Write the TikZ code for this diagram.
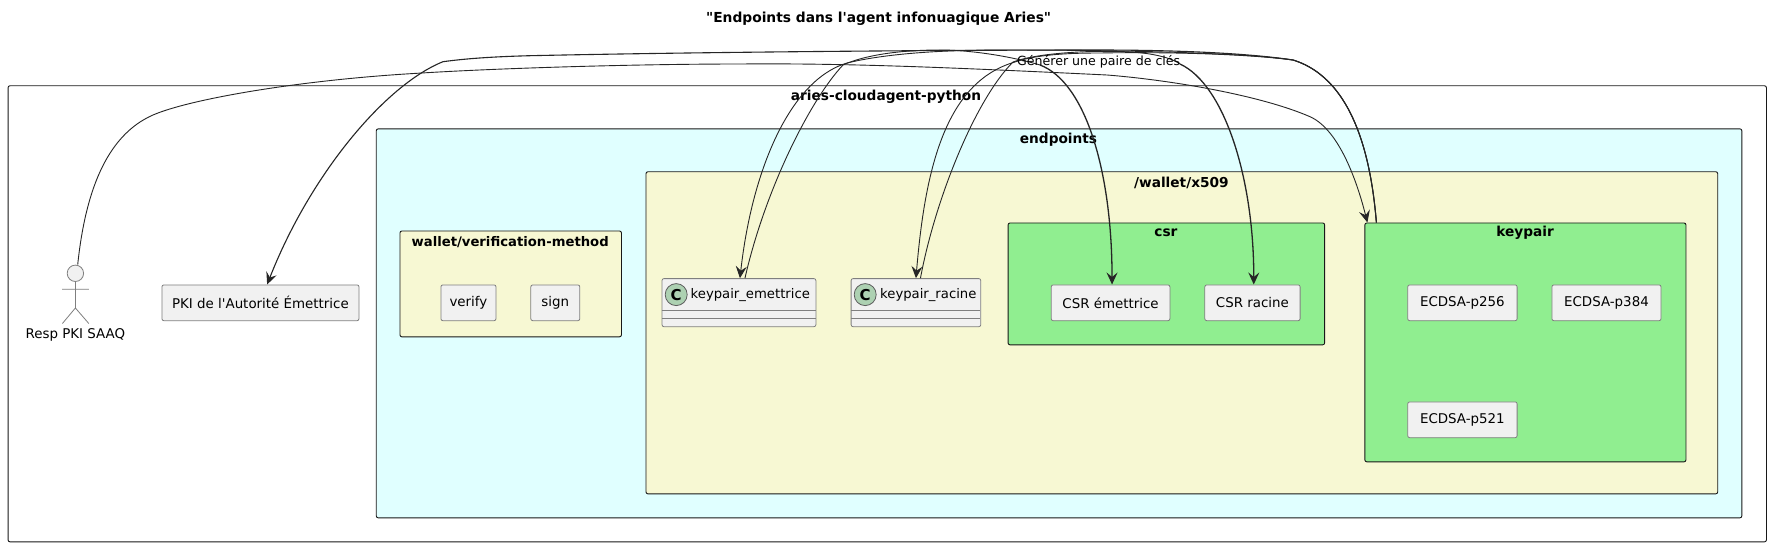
\documentclass[tikz,border=0pt]{standalone}
\usepackage{fontspec}
\setmainfont{DejaVu Sans}[Ligatures=TeXOff]
\usetikzlibrary{arrows.meta}
\definecolor{boxfill}{HTML}{F1F1F1}
\definecolor{boxline}{HTML}{7F7F7F}
\definecolor{grpline}{HTML}{181818}
\definecolor{cyanfill}{HTML}{E0FFFF}
\definecolor{yellowfill}{HTML}{F7F8D3}
\definecolor{greenfill}{HTML}{90EE90}
\definecolor{circfill}{HTML}{ADD1B2}
\tikzset{
  grp/.style={draw=grpline,line width=.9pt,rounded corners=2pt,anchor=north west,inner sep=0pt},
  grplabel/.style={font=\bfseries\fontsize{13.7}{17}\selectfont,text=black,inner sep=0pt},
  item/.style={draw=boxline,fill=boxfill,line width=.8pt,rounded corners=2pt,anchor=north west,inner sep=0pt,minimum height=35.8pt,font=\fontsize{13.4}{16}\selectfont,text=black},
  edge/.style={draw=black!85,line width=.9pt,-{Stealth[length=12pt,width=11pt,inset=4.5pt]}},
  edgeb/.style={edge,line width=1.3pt},
  plainedge/.style={draw=black!85,line width=.9pt},
  stick/.style={draw=boxline,line width=.8pt}
}
\begin{document}
\begin{tikzpicture}[x=1pt,y=-1pt]
\useasboundingbox[fill=white] (0,0) rectangle (1770,546);
\node[font=\bfseries\fontsize{13.8}{17}\selectfont] (title) at (878.6,19) {"Endpoints dans l'agent infonuagique Aries"};
% groups
\node[grp,fill=white,minimum width=1758.4pt,minimum height=456.1pt] (aries) at (7.6,85.3) {};
\node[grp,fill=cyanfill,minimum width=1365.6pt,minimum height=389pt] (endpoints) at (375.8,128.4) {};
\node[grp,fill=yellowfill,minimum width=1071.8pt,minimum height=322.1pt] (x509) at (645.5,171.3) {};
\node[grp,fill=yellowfill,minimum width=221.5pt,minimum height=105.9pt] (wvm) at (399.5,230.5) {};
\node[grp,fill=greenfill,minimum width=316.6pt,minimum height=121.9pt] (csr) at (1007.6,222.5) {};
\node[grp,fill=greenfill,minimum width=321.1pt,minimum height=238.9pt] (kp) at (1364.4,222.5) {};
\node[grplabel] (lariesc) at (886,97) {aries-cloudagent-python};
\node[grplabel] (lendpoints) at (1058.5,139.5) {endpoints};
\node[grplabel] (lx509) at (1181.4,182.5) {/wallet/x509};
\node[grplabel,font=\bfseries\fontsize{13.2}{17}\selectfont] (lwvm) at (510.2,242) {wallet/verification-method};
\node[grplabel] (lcsr) at (1165.9,233) {csr};
\node[grplabel] (lkp) at (1525,233) {keypair};
% actor
\node[circle,draw=boxline,fill=boxfill,line width=.8pt,minimum size=16.4pt,inner sep=0pt] (actor) at (75.4,273.3) {};
\coordinate (hip) at (75.4,308);
\coordinate (armL) at (62,289.3);
\coordinate (armR) at (88.8,289.3);
\coordinate (legL) at (62.4,323.5);
\coordinate (legR) at (88.8,323.5);
\draw[stick] (actor.south) -- (hip) (armL) -- (armR) (legL) -- (hip) -- (legR);
\node[font=\fontsize{13.4}{16}\selectfont,inner sep=0pt] (actorlabel) at (75.4,334.5) {Resp PKI SAAQ};
% items
\node[item,minimum width=197.1pt] (pki) at (161.5,284.5) {PKI de l'Autorité Émettrice};
\node[item,minimum width=55.1pt] (verify) at (440.5,284.5) {verify};
\node[item,minimum width=49pt] (sign) at (530.4,284.5) {sign};
\node[item,minimum width=118.7pt] (csre) at (1050.8,284.5) {CSR émettrice};
\node[item,minimum width=95.3pt] (csrr) at (1204.4,284.5) {CSR racine};
\node[item,minimum width=109.4pt] (p256) at (1407.3,284.5) {ECDSA-p256};
\node[item,minimum width=109.1pt] (p384) at (1551.5,284.5) {ECDSA-p384};
\node[item,minimum width=109.4pt] (p521) at (1407.3,401.5) {ECDSA-p521};
% classes
\node[item,minimum width=153.9pt,minimum height=48.1pt] (ke) at (661.6,278.2) {};
\node[item,minimum width=129.7pt,minimum height=48.1pt] (kr) at (850.7,278.2) {};
\draw[stick] (661.6,310.2) -- (815.5,310.2) (661.6,318.2) -- (815.5,318.2);
\draw[stick] (850.7,310.2) -- (980.4,310.2) (850.7,318.2) -- (980.4,318.2);
\node[circle,draw=grpline!70,fill=circfill,line width=.8pt,minimum size=22pt,inner sep=0pt,font=\bfseries\fontsize{15}{16}\selectfont] (ce) at (676.2,294.6) {C};
\node[circle,draw=grpline!70,fill=circfill,line width=.8pt,minimum size=22pt,inner sep=0pt,font=\bfseries\fontsize{15}{16}\selectfont] (cr) at (865.2,294.6) {C};
\node[anchor=west,inner sep=0pt,font=\fontsize{13.2}{16}\selectfont] (le) at (690.5,294.6) {keypair\_emettrice};
\node[anchor=west,inner sep=0pt,font=\fontsize{13.2}{16}\selectfont] (lr) at (880,294.6) {keypair\_racine};
% edges
\draw[edge] ([xshift=2.3pt]actor.north) .. controls (85,195) and (105,136) .. (153,115)
  .. controls (190,99) and (300,80) .. (417,73.3)
  .. controls (500,68) and (640,64) .. (740,64)
  .. controls (850,63) and (960,68) .. (1107,75)
  .. controls (1170,80) and (1260,95) .. (1310,116.7)
  .. controls (1340,130) and (1358,185) .. ([xshift=3pt]kp.north west);
\draw[edge,line width=1.1pt] ([xshift=12pt]kp.north west) .. controls (1372,170) and (1358,80) .. (1293,60)
  .. controls (1240,52) and (1160,50) .. (1097,50)
  .. controls (950,50) and (700,52) .. (530,55.7)
  .. controls (500,56.5) and (470,58) .. (443,61.7)
  .. controls (385,85) and (310,175) .. ([xshift=6.7pt]pki.north);
\draw[edge] ([xshift=12pt]kp.north west) .. controls (1372,170) and (1358,80) .. (1293,60)
  .. controls (1240,52) and (1100,50) .. (1000,50)
  .. controls (930,50) and (880,55) .. (847,63)
  .. controls (790,80) and (752,170) .. ([xshift=1pt]ke.north);
\coordinate (knee1) at (1040,65);
\draw[plainedge] ([xshift=6pt]ke.north) .. controls (765,190) and (810,100) .. (843,65)
  .. controls (865,55) and (900,50) .. (940,50)
  .. controls (970,50) and (1010,56) .. (knee1);
\draw[edgeb] (knee1) .. controls (1085,82) and (1112,170) .. ([xshift=1.5pt]csre.north);
\draw[edge] ([xshift=12pt]kp.north west) .. controls (1372,170) and (1358,80) .. (1293,60)
  .. controls (1240,53) and (1150,52) .. (1100,53)
  .. controls (1065,53) and (1035,55) .. (1015,62)
  .. controls (945,82) and (925,170) .. (kr.north);
\coordinate (knee2) at (1180,64);
\draw[plainedge] ([xshift=4.5pt]kr.north) .. controls (935,200) and (975,100) .. (1013,62)
  .. controls (1040,52) and (1100,50) .. (1130,52)
  .. controls (1150,53) and (1170,57) .. (knee2);
\draw[edgeb] (knee2) .. controls (1225,85) and (1254,180) .. ([xshift=1.3pt]csrr.north);
\node[inner sep=0pt,font=\fontsize{12.6}{15}\selectfont] (edgelabel) at (1098.7,61.7) {Générer une paire de clés};
\end{tikzpicture}
\end{document}
